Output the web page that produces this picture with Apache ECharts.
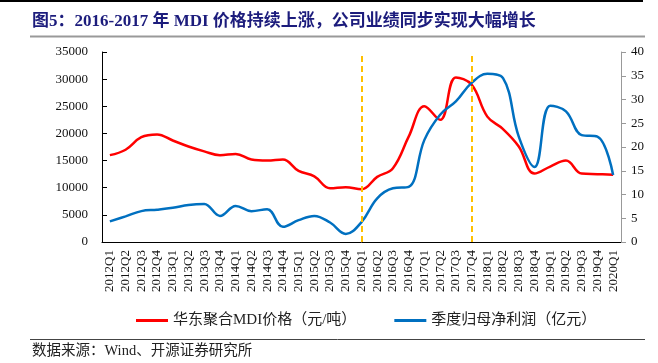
<!DOCTYPE html>
<html><head><meta charset="utf-8">
<script src="https://cdn.jsdelivr.net/npm/echarts@6/dist/echarts.min.js"></script>
<style>html,body{margin:0;padding:0;background:#fff}#c{width:658px;height:363px}</style>
</head><body><div id="c"></div>
<script>
const categories = ['2012Q1','2012Q2','2012Q3','2012Q4','2013Q1','2013Q2','2013Q3','2013Q4','2014Q1','2014Q2','2014Q3','2014Q4','2015Q1','2015Q2','2015Q3','2015Q4','2016Q1','2016Q2','2016Q3','2016Q4','2017Q1','2017Q2','2017Q3','2017Q4','2018Q1','2018Q2','2018Q3','2018Q4','2019Q1','2019Q2','2019Q3','2019Q4','2020Q1'];
const mdiPrice = [16000,17000,19300,19800,18700,17600,16700,16000,16200,15200,15000,15200,13100,12100,9900,10100,9700,12000,13600,19400,25000,22500,30300,29000,23100,20800,17600,12600,13900,15000,12600,12500,12400];
const netProfit = [4.35,5.4,6.5,6.8,7.2,7.8,8.0,5.5,7.6,6.5,6.9,3.2,4.6,5.5,4.1,1.7,4.2,9.2,11.3,11.6,21.5,26.8,29.6,33.5,35.4,34.5,22.2,15.8,28.7,27.5,22.5,22.2,14.1];
const leftTicks = {min:0, max:35000, interval:5000};
const rightTicks = {min:0, max:40, interval:5};
const markCats = ['2016Q1','2017Q4'];
const titleText = '图5：2016-2017 年 MDI 价格持续上涨，公司业绩同步实现大幅增长';
const sourceText = '数据来源：Wind、开源证券研究所';
const seriesNames = ['华东聚合MDI价格（元/吨）','季度归母净利润（亿元）'];

const serif = '"Liberation Serif","Noto Sans CJK SC",serif';
const chart = echarts.init(document.getElementById('c'), null, {renderer:'canvas'});
chart.setOption({
  animation:false,
  backgroundColor:'#fff',
  grid:{left:102,right:37,top:52,bottom:121,containLabel:false},
  graphic:[
    {type:'line',shape:{x1:0,y1:1,x2:643,y2:1},style:{stroke:'#000',lineWidth:2}},
    {type:'text',left:32,top:13,style:{text:titleText,font:'bold 17px "Liberation Serif","Noto Sans CJK SC",serif',fill:'#1c1c7c'}},
    {type:'line',shape:{x1:30,y1:36.5,x2:645,y2:36.5},style:{stroke:'#999',lineWidth:2}},
    {type:'line',shape:{x1:30,y1:339.5,x2:645,y2:339.5},style:{stroke:'#444',lineWidth:1}},
    {type:'text',left:32,top:344,style:{text:sourceText,font:'14.5px "Liberation Serif","Noto Sans CJK SC",serif',fill:'#222'}}
  ],
  legend:{
    left:131, top:308, icon:'rect', itemWidth:32, itemHeight:3, itemGap:38,
    textStyle:{fontFamily:serif,fontSize:15,color:'#222'},
    data:seriesNames
  },
  xAxis:{
    type:'category', data:categories, boundaryGap:true,
    axisLine:{lineStyle:{color:'#000',width:1}},
    axisTick:{inside:true,interval:0,length:5,lineStyle:{color:'#000'}},
    axisLabel:{rotate:90,interval:0,fontFamily:serif,fontSize:13,color:'#111',margin:8}
  },
  yAxis:[
    {type:'value',min:leftTicks.min,max:leftTicks.max,interval:leftTicks.interval,
     axisLine:{show:true,lineStyle:{color:'#000'}},
     axisTick:{show:true,inside:true,length:5,lineStyle:{color:'#000'}},
     splitLine:{show:false},
     axisLabel:{fontFamily:serif,fontSize:13,color:'#111',margin:14,formatter:v=>String(v)}},
    {type:'value',min:rightTicks.min,max:rightTicks.max,interval:rightTicks.interval,position:'right',
     axisLine:{show:true,lineStyle:{color:'#999'}},
     axisTick:{show:true,inside:false,length:5,lineStyle:{color:'#999'}},
     splitLine:{show:false},
     axisLabel:{fontFamily:serif,fontSize:13,color:'#111',margin:10}}
  ],
  series:[
    {name:seriesNames[0],type:'line',yAxisIndex:0,data:mdiPrice,smooth:0.4,showSymbol:false,
     lineStyle:{color:'#ff0000',width:2.5},itemStyle:{color:'#ff0000'},
     markLine:{silent:true,symbol:'none',label:{show:false},
       lineStyle:{color:'#ffc000',type:[6,4],width:2},
       data:markCats.map(c=>({xAxis:c}))}},
    {name:seriesNames[1],type:'line',yAxisIndex:1,data:netProfit,smooth:0.4,showSymbol:false,
     lineStyle:{color:'#0070c0',width:2.5},itemStyle:{color:'#0070c0'}}
  ]
});
</script></body></html>
